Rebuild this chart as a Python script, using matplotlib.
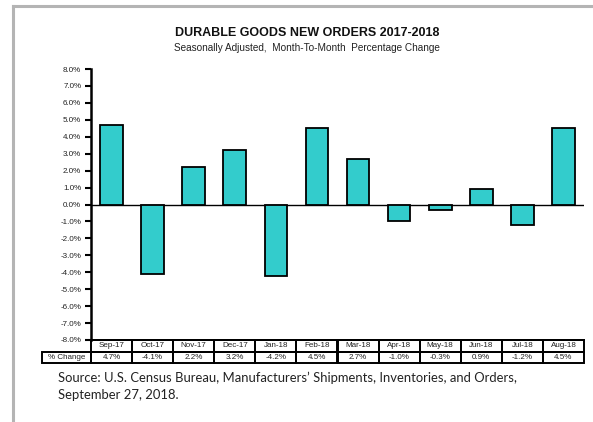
import matplotlib.pyplot as plt
from matplotlib.lines import Line2D
from matplotlib.patches import Rectangle
from matplotlib.transforms import blended_transform_factory

months = ['Sep-17', 'Oct-17', 'Nov-17', 'Dec-17', 'Jan-18', 'Feb-18',
          'Mar-18', 'Apr-18', 'May-18', 'Jun-18', 'Jul-18', 'Aug-18']
pct_change = [4.7, -4.1, 2.2, 3.2, -4.2, 4.5, 2.7, -1.0, -0.3, 0.9, -1.2, 4.5]
y_ticks = list(range(-8, 9))

W, H = 593, 422
fig = plt.figure(figsize=(W / 100, H / 100), dpi=100)
plt.rcParams['font.family'] = ['Liberation Sans', 'DejaVu Sans']

# grey page frame
fig.add_artist(Line2D([13 / W, 13 / W], [0, 1 - 6 / H], color='#b4b4b4', lw=2.2))
fig.add_artist(Line2D([13 / W, 1], [1 - 6 / H, 1 - 6 / H], color='#b4b4b4', lw=2.2))

ax = fig.add_axes([91 / W, 1 - 340 / H, (584 - 91) / W, (340 - 69) / H])
x = list(range(len(months)))
ax.bar(x, pct_change, width=0.55, color='#33CCCC', edgecolor='black', linewidth=1.3, zorder=3)
ax.axhline(0, color='black', lw=1.0, zorder=2)

ax.set_xlim(-0.5, len(months) - 0.5)
ax.set_ylim(-8, 8)
ax.set_yticks(y_ticks)
ax.set_yticklabels([f'{v:.1f}%' for v in y_ticks], fontsize=5.8, color='#222222')
ax.tick_params(axis='y', direction='out', length=4, width=1.5, pad=3)
ax.set_xticks([])
for s in ['top', 'right']:
    ax.spines[s].set_visible(False)
ax.spines['left'].set_linewidth(1.8)
ax.spines['bottom'].set_linewidth(1.3)

# data table under the bars
tr = blended_transform_factory(ax.transData, ax.transAxes)
row_h = 11.5 / (340 - 69)
for i, m in enumerate(months):
    for r, txt in enumerate([m, f'{pct_change[i]:.1f}%']):
        y0 = -row_h * (r + 1)
        ax.add_patch(Rectangle((i - 0.5, y0), 1, row_h, transform=tr, fill=False,
                               edgecolor='black', lw=1.4, clip_on=False))
        ax.text(i, y0 + row_h / 2, txt, transform=tr, ha='center', va='center',
                fontsize=5.8, color='#222222')
ax.add_patch(Rectangle((-1.7, -2 * row_h), 1.2, row_h, transform=tr, fill=False,
                       edgecolor='black', lw=1.4, clip_on=False))
ax.text(-1.1, -1.5 * row_h, '% Change', transform=tr, ha='center', va='center',
        fontsize=5.8, color='#222222')

fig.text(307 / W, 1 - 33 / H, 'DURABLE GOODS NEW ORDERS 2017-2018', ha='center', va='center',
         fontsize=9.0, fontweight='bold', color='#111111')
fig.text(307 / W, 1 - 48 / H, 'Seasonally Adjusted,  Month-To-Month  Percentage Change',
         ha='center', va='center', fontsize=7.2, color='#222222')

src_font = ['Lato', 'DejaVu Sans']
fig.text(58 / W, 1 - 378 / H,
         'Source: U.S. Census Bureau, Manufacturers\u2019 Shipments, Inventories, and Orders,',
         ha='left', va='center', fontsize=9.4, family=src_font, color='#222222')
fig.text(58 / W, 1 - 395 / H, 'September 27, 2018.', ha='left', va='center',
         fontsize=9.4, family=src_font, color='#222222')

fig.savefig('out.png', dpi=100)
